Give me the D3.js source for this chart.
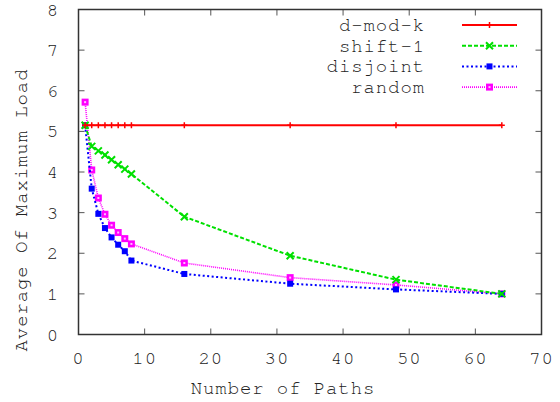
<!DOCTYPE html>
<html>
<head>
<meta charset="utf-8">
<script src="https://cdn.jsdelivr.net/npm/d3@7"></script>
<style>
  body { margin: 0; background: #fff; }
  text { font-family: "Nimbus Mono PS", "FreeMono", "Courier", "Liberation Mono", monospace; fill: #222; letter-spacing: 0.9px; }
</style>
</head>
<body>
<div id="chart"></div>
<script>
// data
var paths = [1, 2, 3, 4, 5, 6, 7, 8, 16, 32, 48, 64];
var dModK   = [5.15, 5.15, 5.15, 5.15, 5.15, 5.15, 5.15, 5.15, 5.15, 5.15, 5.15, 5.15];
var shift1  = [5.15, 4.63, 4.52, 4.42, 4.30, 4.18, 4.07, 3.95, 2.90, 1.94, 1.35, 1.0];
var disjoint = [5.15, 3.59, 2.97, 2.62, 2.39, 2.21, 2.05, 1.82, 1.49, 1.25, 1.11, 1.0];
var random  = [5.72, 4.05, 3.36, 2.96, 2.69, 2.51, 2.36, 2.23, 1.76, 1.40, 1.22, 1.0];
var xTicks = [0, 10, 20, 30, 40, 50, 60, 70];
var yTicks = [0, 1, 2, 3, 4, 5, 6, 7, 8];

var w = 560, h = 402;
var pLeft = 78.5, pRight = 541.5, pTop = 9.5, pBottom = 334.5;

var x = d3.scaleLinear().domain([0, 70]).range([pLeft, pRight]);
var y = d3.scaleLinear().domain([0, 8]).range([pBottom, pTop]);

var svg = d3.select("#chart").append("svg")
  .attr("width", w)
  .attr("height", h);

var series = [
  { name: "d-mod-k", values: dModK, color: "#ff0000", dash: null, width: 2, marker: "plus" },
  { name: "shift-1", values: shift1, color: "#00e000", dash: "4,2", width: 2, marker: "cross" },
  { name: "disjoint", values: disjoint, color: "#0000ff", dash: "2,2.5", width: 2, marker: "square" },
  { name: "random", values: random, color: "#ff00ff", dash: "1,1", width: 1.6, marker: "box" }
];

// ticks (inward, mirrored)
var tk = svg.append("g").attr("stroke", "#555").attr("stroke-width", 1);
xTicks.forEach(function(t) {
  if (t === 0 || t === 70) return;
  tk.append("line").attr("x1", x(t)).attr("x2", x(t)).attr("y1", pBottom).attr("y2", pBottom - 6);
  tk.append("line").attr("x1", x(t)).attr("x2", x(t)).attr("y1", pTop).attr("y2", pTop + 6);
});
yTicks.forEach(function(t) {
  if (t === 0 || t === 8) return;
  tk.append("line").attr("x1", pLeft).attr("x2", pLeft + 6).attr("y1", y(t)).attr("y2", y(t));
  tk.append("line").attr("x1", pRight).attr("x2", pRight - 6).attr("y1", y(t)).attr("y2", y(t));
});

// tick labels
svg.selectAll(".xl")
  .data(xTicks)
  .enter().append("text")
  .attr("x", function(d) { return x(d); })
  .attr("y", 364)
  .attr("text-anchor", "middle")
  .attr("font-size", "19px")
  .text(function(d) { return d; });

svg.selectAll(".yl")
  .data(yTicks)
  .enter().append("text")
  .attr("x", 59)
  .attr("y", function(d) { return y(d) + 6; })
  .attr("text-anchor", "end")
  .attr("font-size", "19px")
  .text(function(d) { return d; });

// axis titles
svg.append("text")
  .attr("x", 283)
  .attr("y", 394)
  .attr("text-anchor", "middle")
  .attr("font-size", "19px")
  .text("Number of Paths");

svg.append("text")
  .attr("transform", "translate(27,210) rotate(-90)")
  .attr("text-anchor", "middle")
  .attr("font-size", "19px")
  .text("Average Of Maximum Load");

function drawMarker(g, type, cx, cy, color) {
  if (type === "plus") {
    g.append("path").attr("d", "M" + (cx - 3) + "," + cy + "h6M" + cx + "," + (cy - 3) + "v6")
      .attr("stroke", color).attr("stroke-width", 1.5).attr("fill", "none");
  } else if (type === "cross") {
    g.append("path").attr("d", "M" + (cx - 3.5) + "," + (cy - 3.5) + "l7,7M" + (cx - 3.5) + "," + (cy + 3.5) + "l7,-7")
      .attr("stroke", color).attr("stroke-width", 2).attr("fill", "none");
  } else if (type === "square") {
    g.append("rect").attr("x", cx - 3).attr("y", cy - 3).attr("width", 6).attr("height", 6)
      .attr("fill", color);
  } else {
    g.append("rect").attr("x", cx - 3.5).attr("y", cy - 3.5).attr("width", 7).attr("height", 7)
      .attr("fill", color);
    g.append("rect").attr("x", cx - 1).attr("y", cy - 1).attr("width", 2).attr("height", 2)
      .attr("fill", "#ffc0ff");
  }
}

var line = d3.line()
  .x(function(d) { return x(d[0]); })
  .y(function(d) { return y(d[1]); });

// draw in reverse so red lies on top
series.slice().reverse().forEach(function(s) {
  var pts = paths.map(function(p, i) { return [p, s.values[i]]; });
  var g = svg.append("g");
  g.append("path")
    .datum(pts)
    .attr("d", line)
    .attr("fill", "none")
    .attr("stroke", s.color)
    .attr("stroke-width", s.width)
    .attr("stroke-dasharray", s.dash);
  pts.forEach(function(p) {
    drawMarker(g, s.marker, x(p[0]), y(p[1]), s.color);
  });
});

// legend
series.forEach(function(s, i) {
  var ly = 25 + i * 20.7;
  svg.append("text")
    .attr("x", 425)
    .attr("y", ly + 6)
    .attr("text-anchor", "end")
    .attr("font-size", "19px")
    .text(s.name);
  var g = svg.append("g");
  g.append("line")
    .attr("x1", 462).attr("x2", 517)
    .attr("y1", ly).attr("y2", ly)
    .attr("stroke", s.color)
    .attr("stroke-width", s.width)
    .attr("stroke-dasharray", s.dash);
  drawMarker(g, s.marker, 489.5, ly, s.color);
});

// border
svg.append("rect")
  .attr("x", pLeft).attr("y", pTop)
  .attr("width", pRight - pLeft).attr("height", pBottom - pTop)
  .attr("fill", "none")
  .attr("stroke", "#333")
  .attr("stroke-width", 1.5);
</script>
</body>
</html>
